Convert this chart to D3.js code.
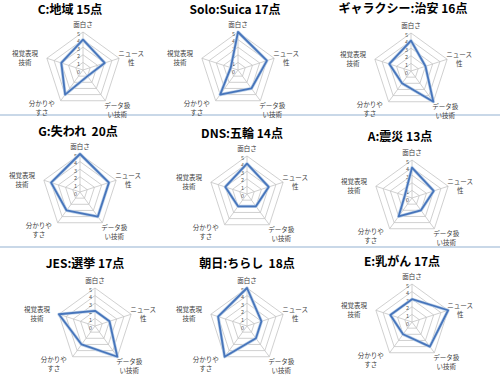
<!DOCTYPE html>
<html>
<head>
<meta charset="utf-8">
<script src="https://cdn.jsdelivr.net/npm/d3@7"></script>
<style>
  body { margin: 0; background: #fff; }
  svg { display: block; font-family: "Noto Sans CJK JP", "Noto Sans", sans-serif; }
</style>
</head>
<body>
<div id="chart"></div>
<script>
// data
var axisNames = ["面白さ", "ニュース性", "データ扱い技術", "分かりやすさ", "視覚表現技術"];
var axisLines = [["面白さ"], ["ニュース", "性"], ["データ扱", "い技術"], ["分かりや", "すさ"], ["視覚表現", "技術"]];
var ticks = [0, 1, 2, 3, 4, 5];
var titles = ["C:地域 15点", "Solo:Suica 17点", "ギャラクシー:治安 16点",
              "G:失われ  20点", "DNS:五輪 14点", "A:震災 13点",
              "JES:選挙 17点", "朝日:ちらし  18点", "E:乳がん 17点"];
var scoresC = [4, 3, 1, 4, 3];
var scoresSolo = [5, 4, 3, 4, 1];
var scoresGalaxy = [4, 2, 5, 2, 3];
var scoresG = [5, 4, 4, 3, 4];
var scoresDNS = [4, 3, 2, 2, 3];
var scoresA = [4, 3, 2, 3, 1];
var scoresJES = [2, 2, 5, 3, 5];
var scoresAsahi = [5, 2, 2, 5, 4];
var scoresE = [3, 5, 4, 2, 3];
var allScores = [scoresC, scoresSolo, scoresGalaxy, scoresG, scoresDNS, scoresA, scoresJES, scoresAsahi, scoresE];

// layout (chart centre, title centre)
var layout = [
  {cx: 83, cy: 70, tx: 70, ty: 10},
  {cx: 238, cy: 70, tx: 235, ty: 10},
  {cx: 411, cy: 71, tx: 403, ty: 9},
  {cx: 80, cy: 192, tx: 78, ty: 132},
  {cx: 247, cy: 194, tx: 242, ty: 134},
  {cx: 412, cy: 198, tx: 400, ty: 137},
  {cx: 95, cy: 326, tx: 85, ty: 264},
  {cx: 247, cy: 326, tx: 247, ty: 264},
  {cx: 412, cy: 322, tx: 402, ty: 262}
];

var width = 500, height = 375;
var R = 38;
var gridColor = "#c4c4c4";
var lineColor = "#4775bb";
var textColor = "#404040";

var svg = d3.select("#chart").append("svg")
  .attr("width", width)
  .attr("height", height);

// separators between rows
[115, 247].forEach(function(y) {
  svg.append("line")
    .attr("x1", 0).attr("x2", width)
    .attr("y1", y).attr("y2", y)
    .attr("stroke", "#c9d8e8")
    .attr("stroke-width", 2);
});

var r = d3.scaleLinear().domain([0, 5]).range([0, R]);
var angle = d3.scalePoint().domain(d3.range(axisNames.length)).range([0, 2 * Math.PI * 4 / 5]);

function pt(i, v) {
  var a = angle(i);
  return [r(v) * Math.sin(a), -r(v) * Math.cos(a)];
}

// label offsets for each axis (relative to outer vertex)
var labelOff = [
  {dx: 0, dy: -5},
  {dx: 12, dy: -2},
  {dx: 12, dy: 7},
  {dx: -19, dy: 5},
  {dx: -22, dy: -2}
];

allScores.forEach(function(scores, k) {
  var L = layout[k];
  var g = svg.append("g").attr("transform", "translate(" + L.cx + "," + L.cy + ")");

  // grid rings
  ticks.slice(1).forEach(function(t) {
    g.append("polygon")
      .attr("points", axisNames.map(function(d, i) { return pt(i, t).join(","); }).join(" "))
      .attr("fill", "none")
      .attr("stroke", gridColor)
      .attr("stroke-width", 0.8);
  });
  // spokes
  axisNames.forEach(function(d, i) {
    var p = pt(i, 5);
    g.append("line")
      .attr("x1", 0).attr("y1", 0)
      .attr("x2", p[0]).attr("y2", p[1])
      .attr("stroke", gridColor)
      .attr("stroke-width", 0.8);
  });
  // tick labels
  ticks.forEach(function(t) {
    g.append("text")
      .attr("x", -3)
      .attr("y", -r(t) + 3.5)
      .attr("text-anchor", "end")
      .attr("font-size", 5.5)
      .attr("fill", "#595959")
      .text(t);
  });

  // data polygon
  var line = d3.lineRadial()
    .angle(function(d, i) { return angle(i); })
    .radius(function(d) { return r(d); })
    .curve(d3.curveLinearClosed);
  g.append("path")
    .attr("d", line(scores))
    .attr("fill", "none")
    .attr("stroke", "#bcd0e8")
    .attr("stroke-width", 3.2)
    .attr("stroke-linejoin", "round");
  g.append("path")
    .attr("d", line(scores))
    .attr("fill", "none")
    .attr("stroke", lineColor)
    .attr("stroke-width", 1.8)
    .attr("stroke-linejoin", "round");

  // axis labels
  axisLines.forEach(function(lines, i) {
    var p = pt(i, 5), o = labelOff[i];
    var txt = g.append("text")
      .attr("text-anchor", "middle")
      .attr("font-size", 6.5)
      .attr("fill", textColor);
    lines.forEach(function(s, j) {
      txt.append("tspan")
        .attr("x", p[0] + o.dx)
        .attr("y", p[1] + o.dy + j * 9)
        .text(s);
    });
  });

  // title
  svg.append("text")
    .attr("x", L.tx)
    .attr("y", L.ty + 4)
    .attr("text-anchor", "middle")
    .attr("font-size", 12)
    .attr("font-weight", "bold")
    .attr("fill", "#000")
    .style("white-space", "pre")
    .text(titles[k]);
});
</script>
</body>
</html>
